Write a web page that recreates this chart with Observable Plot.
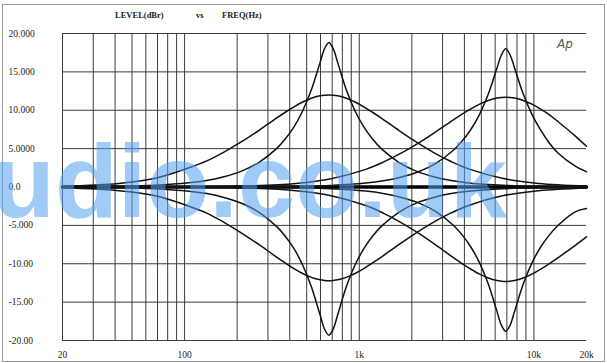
<!DOCTYPE html>
<html><head><meta charset="utf-8">
<script src="https://cdn.jsdelivr.net/npm/d3@7"></script>
<script src="https://cdn.jsdelivr.net/npm/@observablehq/plot@0.6"></script>
<style>
body{margin:0;background:#fff;}
#wrap{position:relative;width:607px;height:363px;overflow:hidden;background:#fff;}
#wrap svg{position:absolute;left:0;top:0;}
</style></head><body><div id="wrap"></div>
<script>
// Band 1 (~670 Hz) frequencies and levels (dBr)
const freq1 = [20, 42, 67, 106, 134, 168, 212, 267, 336, 377, 423, 474, 532, 597, 632, 670, 710, 752, 843, 946, 1062, 1191, 1337, 1683, 2119, 2667, 3358, 4227, 6700, 10620, 20000];
const lowBoost1 = [0.11, 0.47, 1.1, 2.5, 3.4, 4.55, 5.9, 7.39, 8.98, 9.74, 10.45, 11.08, 11.57, 11.89, 11.97, 12.0, 11.97, 11.89, 11.57, 11.08, 10.45, 9.74, 8.98, 7.39, 5.87, 4.49, 3.32, 2.36, 1.1, 0.47, 0.13];
const highBoost1 = [0.02, 0.09, 0.22, 0.54, 0.85, 1.33, 2.07, 3.22, 5.0, 6.25, 7.83, 9.9, 12.66, 16.24, 18.0, 18.8, 18.0, 16.24, 12.66, 9.9, 7.83, 6.25, 5.0, 3.22, 2.07, 1.33, 0.84, 0.53, 0.22, 0.09, 0.02];
const lowCut1 = [-0.11, -0.48, -1.12, -2.5, -3.4, -4.6, -6.0, -7.52, -9.13, -9.9, -10.63, -11.27, -11.77, -12.09, -12.17, -12.2, -12.17, -12.09, -11.77, -11.27, -10.63, -9.9, -9.13, -7.52, -5.97, -4.57, -3.38, -2.4, -1.12, -0.48, -0.13];
const highCut1 = [-0.02, -0.09, -0.22, -0.55, -0.86, -1.36, -2.12, -3.3, -5.13, -6.41, -8.04, -10.16, -13.0, -16.68, -18.48, -19.3, -18.48, -16.68, -13.0, -10.16, -8.04, -6.41, -5.13, -3.3, -2.1, -1.36, -0.86, -0.55, -0.22, -0.09, -0.02];

// Band 2 (~6.9 kHz)
const freq2 = [20, 69, 218, 435, 690, 1089, 1371, 1726, 2182, 2747, 3458, 3880, 4354, 4885, 5481, 6150, 6512, 6900, 7310, 7742, 8687, 9746, 10936, 12270, 13767, 17332, 20000];
const lowBoost2 = [0.0, 0.01, 0.12, 0.46, 1.07, 2.3, 3.24, 4.38, 5.72, 7.2, 8.75, 9.5, 10.19, 10.8, 11.28, 11.59, 11.67, 11.7, 11.67, 11.59, 11.28, 10.8, 10.15, 9.4, 8.5, 6.6, 5.3];
const highBoost2 = [0, 0, 0.02, 0.09, 0.21, 0.51, 0.8, 1.27, 1.98, 3.08, 4.78, 5.98, 7.49, 9.47, 12.11, 15.53, 17.2, 18.0, 17.2, 15.53, 12.11, 9.47, 7.4, 5.7, 4.4, 2.7, 2.0];
const lowCut2 = [0, -0.01, -0.12, -0.48, -1.13, -2.42, -3.4, -4.6, -6.02, -7.57, -9.2, -9.98, -10.71, -11.36, -11.86, -12.19, -12.27, -12.3, -12.27, -12.19, -11.86, -11.36, -10.71, -9.98, -9.2, -7.57, -6.5];
const highCut2 = [0, 0, -0.02, -0.09, -0.22, -0.53, -0.84, -1.33, -2.07, -3.21, -4.99, -6.24, -7.82, -9.89, -12.65, -16.24, -17.99, -18.8, -17.99, -16.24, -12.65, -9.89, -7.82, -6.24, -4.99, -3.21, -2.8];

// Flat (bypass) trace
const flatFreq = [20, 20000];
const flatLevel = [0, 0];

// Axes
const gridFreqs = [20,30,40,50,60,70,80,90,100,200,300,400,500,600,700,800,900,1000,2000,3000,4000,5000,6000,7000,8000,9000,10000];
const xTickVals = [20, 100, 1000, 10000, 20000];
const xTickLabels = ["20", "100", "1k", "10k", "20k"];
const yTickVals = [20, 15, 10, 5, 0, -5, -10, -15, -20];
const yTickLabels = ["20.000", "15.000", "10.000", "5.0000", "0.0", "-5.000", "-10.00", "-15.00", "-20.00"];

const series = [
  [freq1, lowBoost1], [freq1, highBoost1], [freq1, lowCut1], [freq1, highCut1],
  [freq2, lowBoost2], [freq2, highBoost2], [freq2, lowCut2], [freq2, highCut2]
].map(([f, v]) => f.map((x, i) => ({f: x, v: v[i]})));
const flat = flatFreq.map((x, i) => ({f: x, v: flatLevel[i]}));

const serif = "'Liberation Serif','Times New Roman',serif";

const chart = Plot.plot({
  width: 607, height: 363,
  marginLeft: 62, marginRight: 21, marginTop: 33, marginBottom: 23,
  x: {type: "log", domain: [20, 20000]},
  y: {domain: [-20, 20]},
  style: {fontFamily: serif, fontSize: "9.5px", color: "#222", background: "transparent", overflow: "visible"},
  marks: [
    Plot.ruleX(gridFreqs, {stroke: "#3c3c3c", strokeWidth: 1}),
    Plot.ruleY(yTickVals, {stroke: "#3c3c3c", strokeWidth: 1}),
    Plot.line(flat, {x: "f", y: "v", stroke: "#000", strokeWidth: 3.6}),
    ...series.map(d => Plot.line(d, {x: "f", y: "v", stroke: "#111", strokeWidth: 1.5, curve: "catmull-rom"})),
    Plot.axisX({ticks: xTickVals, tickFormat: d => xTickLabels[xTickVals.indexOf(d)], tickSize: 0, tickPadding: 11, label: null}),
    Plot.axisY({ticks: yTickVals, tickFormat: d => yTickLabels[yTickVals.indexOf(d)], tickSize: 0, tickPadding: 3, textAnchor: "start", dx: -51, label: null})
  ]
});
const wrap = document.getElementById("wrap");
wrap.appendChild(chart);

const ns = "http://www.w3.org/2000/svg";
const ov = document.createElementNS(ns, "svg");
ov.setAttribute("width", 607); ov.setAttribute("height", 363);
ov.innerHTML = `
  <rect x="2.5" y="4.5" width="602" height="357" fill="none" stroke="#9a9a9a" stroke-width="1"/>
  <g font-family="${serif.replace(/'/g, "")}" font-size="8.5" fill="#222" font-weight="bold">
    <text x="115" y="18">LEVEL(dBr)</text>
    <text x="196" y="18">vs</text>
    <text x="222" y="18">FREQ(Hz)</text>
  </g>
  <text x="557" y="48" font-family="DejaVu Sans, sans-serif" font-style="italic" font-size="12" fill="#555">Ap</text>
  <text x="-8" y="217" font-family="Liberation Sans, Arial, sans-serif" font-weight="bold" font-size="103" fill="rgb(80,160,238)" fill-opacity="0.55">udio.co.uk</text>
`;
wrap.appendChild(ov);
</script>
</body></html>
